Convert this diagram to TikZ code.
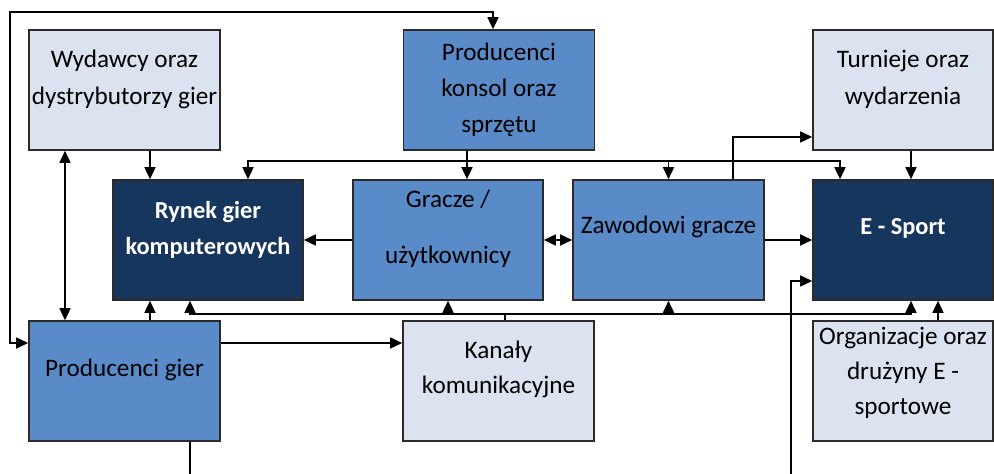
\documentclass[tikz,border=0pt]{standalone}
\usepackage{fontspec}
\setmainfont{Carlito}
\usetikzlibrary{arrows.meta}

\definecolor{lightfill}{HTML}{DCE3F0}
\definecolor{midfill}{HTML}{5A8BC9}
\definecolor{darkfill}{HTML}{17365D}
\definecolor{boxline}{HTML}{2A2A2A}

\tikzstyle{box}=[rectangle, draw=boxline, line width=0.8pt, minimum height=60pt, inner sep=0pt]
\tikzstyle{lightbox}=[box, fill=lightfill, minimum width=95.5pt]
\tikzstyle{midbox}=[box, fill=midfill, minimum width=95.5pt]
\tikzstyle{darkbox}=[box, fill=darkfill, minimum width=95pt]
\tikzstyle{boxtext}=[align=center, inner sep=0pt, text=black, font=\fontsize{12.6}{18.5}\selectfont]
\tikzstyle{boldtext}=[align=center, inner sep=0pt, text=white, font=\bfseries\fontsize{12.2}{18}\selectfont]

\begin{document}
\begin{tikzpicture}[x=0.5pt, y=-0.5pt, >={Triangle[length=6pt,width=5.5pt]}]
\useasboundingbox (0,0) rectangle (994,474);
\clip (0,0) rectangle (994,474);

\node[lightbox, label={[boxtext, yshift=5.5pt]center:{Wydawcy oraz\\dystrybutorzy gier}}](wyd) at (124.5, 90) {};
\node[midbox, label={[boxtext, font=\fontsize{12.6}{18}\selectfont]center:{Producenci\\konsol oraz\\sprzętu}}](pk) at (499, 90) {};
\node[lightbox, minimum width=90pt, label={[boxtext, yshift=5.5pt]center:{Turnieje oraz\\wydarzenia}}](tur) at (903, 90) {};

\node[darkbox, label={[boldtext, yshift=5.25pt]center:{Rynek gier\\komputerowych}}](ryn) at (208, 240) {};
\node[midbox, minimum width=95pt, label={[boxtext, yshift=5.5pt]center:{Gracze /\\[9.5pt]użytkownicy}}](gra) at (448, 240) {};
\node[midbox, label={[boxtext, yshift=6.5pt]center:{Zawodowi gracze}}](zaw) at (668.5, 240) {};
\node[darkbox, minimum width=90pt, label={[boldtext, yshift=6pt]center:{E - Sport}}](esp) at (903, 240) {};

\node[midbox, label={[boxtext, yshift=5.5pt]center:{Producenci gier}}](pg) at (124.5, 381) {};
\node[lightbox, label={[boxtext, yshift=5.75pt, font=\fontsize{12.6}{17.5}\selectfont]center:{Kanały\\komunikacyjne}}](kan) at (498.5, 381) {};
\node[lightbox, minimum width=90pt, label={[boxtext, yshift=4pt, font=\fontsize{12.6}{17.5}\selectfont]center:{Organizacje oraz\\drużyny E -\\sportowe}}](org) at (903, 381) {};

\coordinate (topline) at (10, 12);

\begin{scope}[line width=0.75pt]
       \draw[<->] ([yshift=19pt]pg.west) -| (topline) -| ([xshift=-3pt]pk.north);
       \draw[<->] ([xshift=-29.75pt]wyd.south) -- ([xshift=-29.75pt]pg.north);
       \draw[->] ([xshift=12.75pt]wyd.south) -- ([xshift=-29pt]ryn.north);
       \draw[->] ([xshift=-16pt]pk.south) -- ([xshift=9.5pt]gra.north);
       \draw[<->] ([xshift=20pt]ryn.north) |- ([xshift=-31.5pt, yshift=9pt]esp.north) -- ([xshift=-31.5pt]esp.north);
       \draw[->] ([yshift=9pt]zaw.north) -- (zaw.north);
       \draw[->] ([xshift=32.25pt]zaw.north) |- ([yshift=-23.5pt]tur.west);
       \draw[->] ([xshift=4pt]tur.south) -- ([xshift=4pt]esp.north);

       \draw[->] (gra) -- (ryn);
       \draw[<->] (gra) -- (zaw);
       \draw[->] (zaw) -- (esp);

       \draw[<->] ([xshift=-9pt]ryn.south) |- ([xshift=4pt, yshift=-6.5pt]esp.south) -- ([xshift=4pt]esp.south);
       \draw ([xshift=3.25pt]kan.north) -- ([xshift=28.5pt, yshift=-6.5pt]gra.south);
       \draw[->] ([yshift=-6.5pt]gra.south) -- (gra.south);
       \draw[->] ([yshift=-6.5pt]zaw.south) -- (zaw.south);

       \draw[->] ([xshift=12.75pt]pg.north) -- ([xshift=-29pt]ryn.south);
       \draw[->] ([yshift=19pt]pg.east) -- ([yshift=19pt]kan.west);
       \draw[->] ([xshift=17.5pt]org.north) -- ([xshift=17.5pt]esp.south);
       \draw[->] ([xshift=32.75pt]pg.south) -- ++(0, 60) -| ([xshift=-10.5pt, yshift=-20.5pt]esp.west) -- ([yshift=-20.5pt]esp.west);
\end{scope}
\end{tikzpicture}
\end{document}
